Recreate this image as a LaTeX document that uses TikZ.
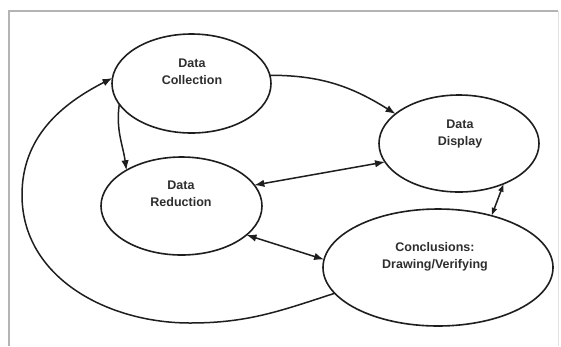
\documentclass[tikz,border=0pt]{standalone}
\usepackage{fontspec}
\setmainfont{Liberation Sans}
\usetikzlibrary{arrows.meta,shapes.geometric}
\definecolor{ink}{HTML}{1E1E1E}
\definecolor{txt}{HTML}{2E2E2E}
\definecolor{framec}{HTML}{B4B4B4}
\begin{document}
\begin{tikzpicture}[x=1bp,y=-1bp,
  bubble/.style={ellipse,draw=ink,line width=1.6bp,inner sep=0pt,outer sep=0pt},
  lbl/.style={align=center,text=txt,font=\fontsize{12.5bp}{17bp}\selectfont\bfseries,inner sep=0pt},
  conn/.style={draw=ink,line width=1.5bp,-{Latex[length=10bp,width=7.5bp]}},
  dconn/.style={draw=ink,line width=1.5bp,{Latex[length=10bp,width=7.5bp]}-{Latex[length=10bp,width=7.5bp]}},
  sconn/.style={draw=ink,line width=1.5bp,{Latex[length=8bp,width=6bp]}-{Latex[length=8bp,width=6bp]}}]
\useasboundingbox (0,0) rectangle (561,346);
\fill[white] (0,0) rectangle (561,346);
% frame
\draw[framec,line width=1.5bp] (9,346) -- (9,11) -- (558,11);
\draw[framec!40,line width=1bp] (558,11) -- (558,346);
% bubbles
\node[bubble,minimum width=159bp,minimum height=99bp] (dc) at (191.5,83.5) {};
\node[bubble,minimum width=160bp,minimum height=97bp] (dd) at (459,143.5) {};
\node[bubble,minimum width=161bp,minimum height=98bp] (dr) at (181.5,206) {};
\node[bubble,minimum width=230bp,minimum height=117bp] (cv) at (438,267.5) {};
% labels
\node[lbl] (dct) at (192,71.5) {Data\\Collection};
\node[lbl] (ddt) at (460,133.5) {Data\\Display};
\node[lbl] (drt) at (181,194) {Data\\Reduction};
\node[lbl] (cvt) at (435,256.5) {Conclusions:\\Drawing/Verifying};
% loop helper points
\coordinate (lb) at (190,323);
\coordinate (ll) at (22,195);
% connectors
\draw[conn] (dc.6) to[out=0,in=148] (dd.155);
\draw[conn] (dc.196) to[out=262,in=98] (dr.147);
\draw[dconn] (dr.16) -- (dd.194);
\draw[dconn] (dr.336) -- (cv.176);
\draw[sconn] (cv.44) -- (dd.318);
\draw[conn] (cv.194) to[out=198,in=0] (lb) to[out=180,in=270] (ll) to[out=90,in=207] (dc.176);
\end{tikzpicture}
\end{document}
